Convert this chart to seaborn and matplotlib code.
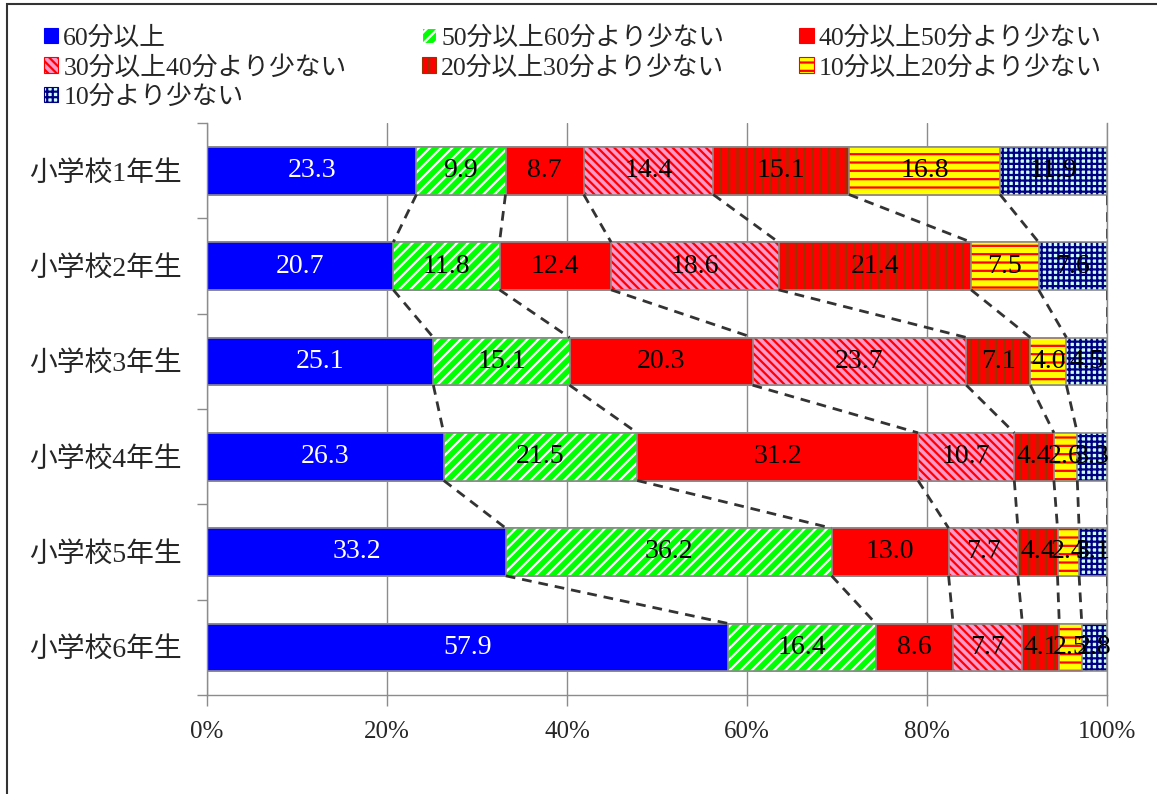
import numpy as np
import pandas as pd
import seaborn as sns
import matplotlib.pyplot as plt
from matplotlib.patches import Patch, Rectangle

# data (percent, each grade)
grades = ['小学校1年生', '小学校2年生', '小学校3年生', '小学校4年生', '小学校5年生', '小学校6年生']
series = ['60分以上', '50分以上60分より少ない', '40分以上50分より少ない', '30分以上40分より少ない',
          '20分以上30分より少ない', '10分以上20分より少ない', '10分より少ない']
v_60 = [23.3, 20.7, 25.1, 26.3, 33.2, 57.9]
v_50 = [9.9, 11.8, 15.1, 21.5, 36.2, 16.4]
v_40 = [8.7, 12.4, 20.3, 31.2, 13.0, 8.6]
v_30 = [14.4, 18.6, 23.7, 10.7, 7.7, 7.7]
v_20 = [15.1, 21.4, 7.1, 4.4, 4.4, 4.1]
v_10 = [16.8, 7.5, 4.0, 2.6, 2.4, 2.5]
v_0 = [11.9, 7.6, 4.5, 3.3, 3.1, 2.8]

# face colour, hatch, hatch colour
styles = [('#0000FF', None, '#0000FF'),
          ('#00FF00', '///', 'white'),
          ('#FF0000', None, '#FF0000'),
          ('#FF99CC', '\\\\\\\\', '#FF0000'),
          ('#FF0000', '||', '#993300'),
          ('#FFFF00', '--', '#FF0000'),
          ('#CCFFFF', '+++', '#000080')]

vals = np.array([v_60, v_50, v_40, v_30, v_20, v_10, v_0]).T
pct = vals / vals.sum(axis=1, keepdims=True) * 100
cum = np.cumsum(pct, axis=1)

sns.set_theme(style='white')
plt.rcParams['font.family'] = ['Liberation Serif', 'Noto Sans CJK JP']
plt.rcParams['hatch.linewidth'] = 1.6

fig = plt.figure(figsize=(11.57, 7.94), dpi=100)
ax = fig.add_axes([207/1157, 1-695/794, 900/1157, 572/794])
ax.set_axisbelow(True)

# stacked bars: draw cumulative totals from the longest to the shortest
for k in range(6, -1, -1):
    face, hatch, hcol = styles[k]
    df = pd.DataFrame({'grade': grades, 'x': cum[:, k]})
    sns.barplot(data=df, x='x', y='grade', orient='h', color=face, saturation=1,
                width=0.5, hatch=hatch, edgecolor=hcol, linewidth=0, ax=ax)
    sns.barplot(data=df, x='x', y='grade', orient='h', color='#8c8c8c', fill=False,
                width=0.5, linewidth=1.2, ax=ax)

# series lines between bars
for i in range(len(grades) - 1):
    for k in range(7):
        ax.plot([cum[i, k], cum[i + 1, k]], [i + 0.25, i + 0.75], ls=(0, (3.5, 2.5)),
                color='#333333', lw=2, zorder=1)

# value labels
for i in range(len(grades)):
    for k in range(7):
        ax.text(cum[i, k] - pct[i, k] / 2, i, f'{vals[i, k]:.1f}', ha='center', va='center',
                fontsize=20, color='white' if k == 0 else 'black', zorder=5)

ax.set_xlim(0, 100)
ax.set_ylim(5.5, -0.5)
ax.set_xticks(range(0, 101, 20))
ax.set_xticklabels([f'{t}%' for t in range(0, 101, 20)], fontsize=18)
ax.set_yticks(range(6))
ax.set_yticklabels(grades, fontsize=20)
ax.set_yticks(np.arange(-0.5, 6, 1), minor=True)
ax.tick_params(axis='y', which='major', length=0, pad=18)
ax.tick_params(axis='y', which='minor', length=7, direction='out', color='#8c8c8c', width=1, left=True)
ax.tick_params(axis='x', length=8, direction='out', color='#8c8c8c', width=1, bottom=True, pad=11)
ax.set_xlabel('')
ax.set_ylabel('')
ax.xaxis.grid(True, color='#8c8c8c', lw=1)
ax.yaxis.grid(False)
for s in ['left', 'bottom', 'right']:
    ax.spines[s].set_color('#8c8c8c')
    ax.spines[s].set_linewidth(1)
ax.spines['top'].set_visible(False)

# legend laid out row by row
handles = [Patch(facecolor=f, hatch=h, edgecolor=c, linewidth=0.8) for f, h, c in styles]
order = [0, 3, 6, 1, 4, 2, 5]
fig.legend([handles[j] for j in order], [series[j] for j in order], ncol=3,
           loc='upper left', bbox_to_anchor=(44/1157, 1-26/794, 1058/1157, 0), mode='expand',
           frameon=False, fontsize=18.5, handlelength=0.55, handleheight=0.55,
           handletextpad=0.2, labelspacing=0.22, borderpad=0, borderaxespad=0)

# outer chart border
fig.patches.append(Rectangle((7/1157, -0.05), 1.2, 1.05 - 4/794, transform=fig.transFigure,
                             fill=False, edgecolor='#333333', lw=1.5))

plt.savefig('out.png', dpi=100)
